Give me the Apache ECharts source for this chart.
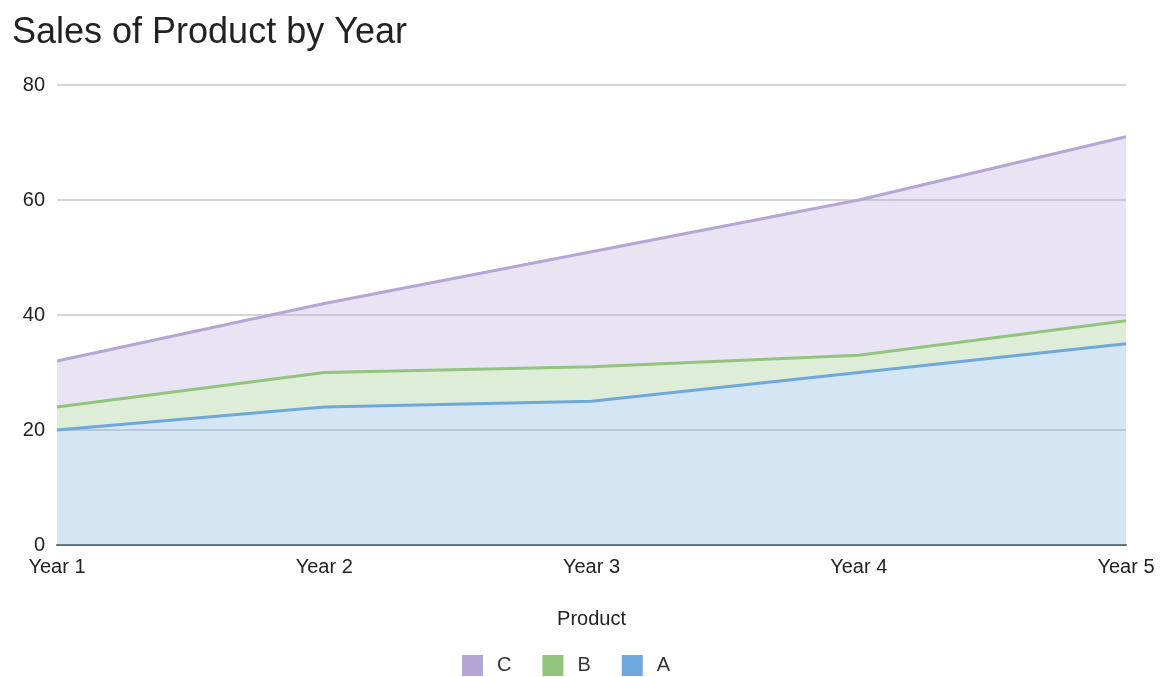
<!DOCTYPE html>
<html><head><meta charset="utf-8">
<script src="https://cdn.jsdelivr.net/npm/echarts@6/dist/echarts.min.js"></script>
<style>html,body{margin:0;padding:0;background:#fff}#c{width:1163px;height:677px}</style>
</head><body><div id="c"></div>
<script>
const categories = ['Year 1','Year 2','Year 3','Year 4','Year 5'];
const seriesA = [20, 24, 25, 30, 35];
const seriesB = [4, 6, 6, 3, 4];
const seriesC = [8, 12, 20, 27, 32];
const yTicks = [0, 20, 40, 60, 80];
const colors = {A:'#6fa8dc', B:'#93c47d', C:'#b4a7d6'};

function mk(name, data, color){
  return {name, type:'line', stack:'total', data, symbol:'none', smooth:false,
    lineStyle:{width:3, color}, itemStyle:{color},
    areaStyle:{color, opacity:0.3}};
}
const chart = echarts.init(document.getElementById('c'));
chart.setOption({
  animation:false,
  textStyle:{fontFamily:'Liberation Sans, Arial, sans-serif'},
  title:{text:'Sales of Product by Year', left:7, top:10,
    textStyle:{fontSize:36, fontWeight:'normal', color:'#222', fontFamily:'Liberation Sans, Arial, sans-serif'}},
  grid:{left:57, right:37, top:85, bottom:132, containLabel:false},
  legend:{data:['C','B','A'], bottom:-4, left:457, icon:'rect', itemWidth:21, itemHeight:21, itemGap:31,
    textStyle:{fontSize:20, color:'#333', padding:[0,0,0,9]}},
  xAxis:{type:'category', data:categories, boundaryGap:false,
    name:'Product', nameLocation:'middle', nameGap:64,
    nameTextStyle:{fontSize:20, color:'#222'},
    axisLine:{lineStyle:{color:'#666', width:2}}, axisTick:{show:false},
    axisLabel:{fontSize:20, color:'#222', margin:12}},
  yAxis:{type:'value', min:yTicks[0], max:yTicks[yTicks.length-1], interval:20,
    axisLine:{show:false}, axisTick:{show:false},
    axisLabel:{fontSize:20, color:'#222', margin:12},
    splitLine:{lineStyle:{color:'#c8c8c8', width:1.5}}},
  series:[mk('A', seriesA, colors.A), mk('B', seriesB, colors.B), mk('C', seriesC, colors.C)]
});
</script></body></html>
